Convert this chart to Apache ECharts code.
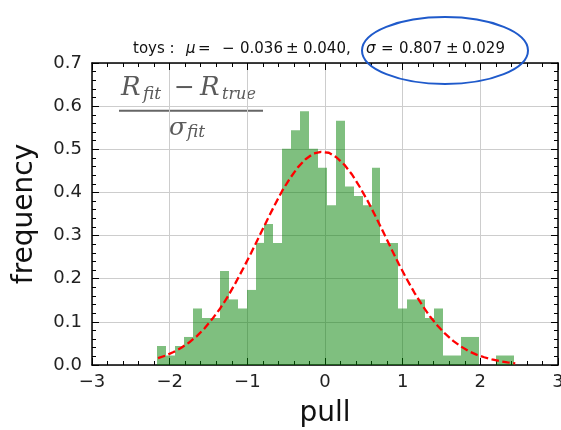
<!DOCTYPE html>
<html>
<head>
<meta charset="utf-8">
<script src="https://cdn.jsdelivr.net/npm/echarts@6/dist/echarts.min.js"></script>
<style>
html,body{margin:0;padding:0;background:#fff;}
#chart{width:561px;height:430px;}
</style>
</head>
<body>
<div id="chart"></div>
<script>
// Histogram bin edges (pull)
const binEdges = [-2.157,-2.042,-1.927,-1.813,-1.698,-1.583,-1.468,-1.353,-1.238,-1.124,
  -1.009,-0.894,-0.779,-0.664,-0.549,-0.435,-0.320,-0.205,-0.090,0.025,
  0.140,0.254,0.369,0.484,0.599,0.714,0.829,0.943,1.058,1.173,
  1.288,1.403,1.518,1.632,1.747,1.862,1.977,2.092,2.207,2.321,2.436];
// Frequency (density) per bin
const frequency = [0.044,0.022,0.044,0.065,0.131,0.109,0.109,0.218,0.152,0.131,
  0.174,0.283,0.327,0.283,0.501,0.544,0.588,0.501,0.457,0.370,
  0.566,0.414,0.392,0.370,0.457,0.283,0.283,0.131,0.152,0.152,
  0.109,0.131,0.022,0.022,0.065,0.065,0,0,0.022,0.022];
// Fitted gaussian curve
const curveX = [-2.15,-2.05,-1.95,-1.85,-1.75,-1.65,-1.55,-1.45,-1.35,-1.25,-1.15,-1.05,-0.95,-0.85,-0.75,-0.65,-0.55,-0.45,-0.35,-0.25,-0.15,-0.05,
  0.05,0.15,0.25,0.35,0.45,0.55,0.65,0.75,0.85,0.95,1.05,1.15,1.25,1.35,1.45,1.55,1.65,1.75,1.85,1.95,2.05,2.15,2.25,2.35,2.45];
const curveY = [0.016,0.022,0.030,0.040,0.052,0.067,0.085,0.107,0.131,0.159,0.191,0.225,0.260,0.297,0.334,0.370,0.404,0.433,0.458,0.477,0.490,0.494,
  0.492,0.481,0.464,0.441,0.412,0.380,0.345,0.308,0.271,0.234,0.200,0.168,0.139,0.113,0.091,0.072,0.056,0.043,0.032,0.024,0.018,0.013,0.009,0.006,0.004];
const xTickValues = [-3,-2,-1,0,1,2,3];
const yTickValues = [0.0,0.1,0.2,0.3,0.4,0.5,0.6,0.7];
// Title pieces: "toys: μ = −0.036 ± 0.040, σ = 0.807 ± 0.029"
const titleTokens = ['toys :', 'μ', '=', '\u2212', '0.036', '±', '0.040,', 'σ', '=', '0.807', '±', '0.029'];
const titleItalic = [false, true, false, false, false, false, false, true, false, false, false, false];
const xName = 'pull';
const yName = 'frequency';

const chart = echarts.init(document.getElementById('chart'), null, {renderer:'canvas'});
const FONT = 'DejaVu Sans';
const SERIF = 'DejaVu Serif';
const GRAY = '#5a5a5a';

const histData = frequency.map((f,i)=>[binEdges[i], binEdges[i+1], f]);
const lineData = curveX.map((x,i)=>[x, curveY[i]]);

const fmtX = v => v < 0 ? '\u2212' + Math.abs(v) : String(v);

const axisCommon = {
  axisLine:{show:true, onZero:false, lineStyle:{color:'#000', width:1.5}},
  axisTick:{show:true, inside:true, length:7, lineStyle:{color:'#000', width:1}},
  minorTick:{show:true, splitNumber:5, length:4, lineStyle:{color:'#000', width:1}},
};

// horizontal placement of title pieces (layout only)
const titleX = [133, 186, 198, 222, 240, 286, 303, 366, 381, 399, 446, 462];
const titleGraphics = titleTokens.map((t,i)=>({
  type:'text', x:titleX[i], y:49,
  style:{text:t, fontFamily:FONT, fontSize:15, fontStyle:titleItalic[i]?'italic':'normal',
    fill:'#111', align:'left', verticalAlign:'middle'}
}));

const option = {
  animation:false,
  backgroundColor:'#fff',
  grid:{left:92, top:63, width:466, height:302, containLabel:false, outerBoundsMode:'none'},
  xAxis:[
    Object.assign({
      type:'value', min:xTickValues[0], max:xTickValues[xTickValues.length-1], interval:1, position:'bottom',
      name:xName, nameLocation:'middle', nameGap:35,
      nameTextStyle:{fontFamily:FONT, fontSize:28, color:'#111'},
      axisLabel:{show:true, formatter:fmtX, fontFamily:FONT, fontSize:18, color:'#222', margin:8},
      splitLine:{show:true, lineStyle:{color:'#cdcdcd', width:1}},
      minorSplitLine:{show:false}
    }, axisCommon),
    Object.assign({
      type:'value', min:xTickValues[0], max:xTickValues[xTickValues.length-1], interval:1, position:'top',
      axisLabel:{show:false}, splitLine:{show:false}
    }, axisCommon)
  ],
  yAxis:[
    Object.assign({
      type:'value', min:yTickValues[0], max:yTickValues[yTickValues.length-1], interval:0.1, position:'left',
      name:yName, nameLocation:'middle', nameGap:53, nameRotate:90,
      nameTextStyle:{fontFamily:FONT, fontSize:28, color:'#111'},
      axisLabel:{show:true, formatter:v=>v.toFixed(1), fontFamily:FONT, fontSize:18, color:'#222', margin:10},
      splitLine:{show:true, lineStyle:{color:'#cdcdcd', width:1}}
    }, axisCommon),
    Object.assign({
      type:'value', min:yTickValues[0], max:yTickValues[yTickValues.length-1], interval:0.1, position:'right',
      axisLabel:{show:false}, splitLine:{show:false}
    }, axisCommon)
  ],
  series:[
    {
      type:'custom', xAxisIndex:0, yAxisIndex:0,
      data:histData,
      encode:{x:[0,1], y:2},
      renderItem:function(params, api){
        const p0 = api.coord([api.value(0), api.value(2)]);
        const p1 = api.coord([api.value(1), 0]);
        const x0 = Math.round(p0[0]), x1 = Math.round(p1[0]);
        return {type:'rect', shape:{x:x0, y:p0[1], width:x1-x0, height:p1[1]-p0[1]},
          style:{fill:'#008000', opacity:0.5}};
      },
      z:2
    },
    {
      type:'line', xAxisIndex:0, yAxisIndex:0,
      data:lineData, showSymbol:false, symbol:'none', smooth:false,
      lineStyle:{color:'#ff0000', width:2.3, type:[7.5,3.5]},
      z:3
    }
  ],
  graphic:titleGraphics.concat([
    {type:'ellipse', shape:{cx:445, cy:50.5, rx:83, ry:33.5},
      style:{fill:'none', stroke:'#1f5acb', lineWidth:2}, z:100},
    // formula  (R_fit - R_true) / sigma_fit
    {type:'text', x:121, y:88.5, style:{text:'R', fontFamily:SERIF, fontStyle:'italic', fontSize:26, fill:GRAY, verticalAlign:'middle'}},
    {type:'text', x:143, y:95, style:{text:'fit', fontFamily:SERIF, fontStyle:'italic', fontSize:17, fill:GRAY, verticalAlign:'middle'}},
    {type:'text', x:174, y:88.5, style:{text:'\u2212', fontFamily:SERIF, fontSize:25, fill:GRAY, verticalAlign:'middle'}},
    {type:'text', x:200, y:88.5, style:{text:'R', fontFamily:SERIF, fontStyle:'italic', fontSize:26, fill:GRAY, verticalAlign:'middle'}},
    {type:'text', x:222, y:95, style:{text:'true', fontFamily:SERIF, fontStyle:'italic', fontSize:16, fill:GRAY, verticalAlign:'middle'}},
    {type:'rect', shape:{x:119, y:109.7, width:144, height:2}, style:{fill:'#666'}},
    {type:'text', x:169, y:128, style:{text:'σ', fontFamily:SERIF, fontStyle:'italic', fontSize:25, fill:GRAY, verticalAlign:'middle'}},
    {type:'text', x:187, y:132.5, style:{text:'fit', fontFamily:SERIF, fontStyle:'italic', fontSize:17, fill:GRAY, verticalAlign:'middle'}}
  ])
};
chart.setOption(option);
</script>
</body>
</html>
